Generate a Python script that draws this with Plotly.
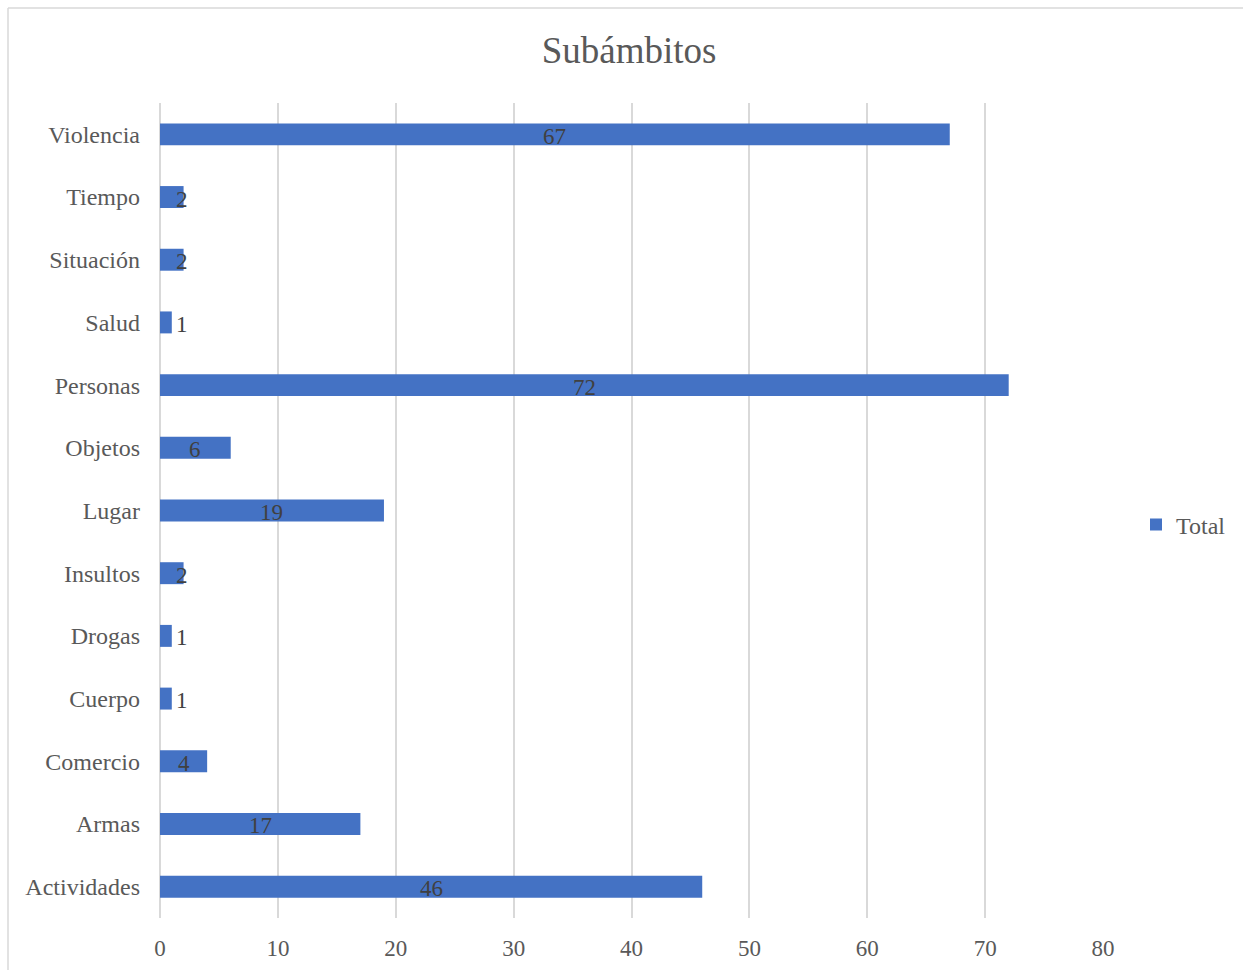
import plotly.graph_objects as go

categories = ["Actividades", "Armas", "Comercio", "Cuerpo", "Drogas", "Insultos",
              "Lugar", "Objetos", "Personas", "Salud", "Situación", "Tiempo", "Violencia"]
values = [46, 17, 4, 1, 1, 2, 19, 6, 72, 1, 2, 2, 67]
x_ticks = [0, 10, 20, 30, 40, 50, 60, 70, 80]

W, H = 1243, 970
L, R, T, B = 160, 140, 103, 52
pw, ph = W - L - R, H - T - B

def px_x(p):
    return (p - L) / pw

def px_y(p):
    return (H - B - p) / ph

label_x = [max(v / 2, 1.87) for v in values]

FONT = "Liberation Serif, Times New Roman, serif"

fig = go.Figure()
fig.add_trace(go.Bar(
    y=categories, x=values, orientation="h", name="Total",
    marker=dict(color="#4472C4", line=dict(width=0)), width=0.35,
    hoverinfo="x+y",
))

annotations = [
    dict(x=lx, y=cat, xref="x", yref="y", text=str(v), showarrow=False,
         xanchor="center", yanchor="middle", yshift=-2,
         font=dict(family=FONT, size=23, color="#404040"))
    for cat, v, lx in zip(categories, values, label_x)
]

fig.update_layout(
    width=W, height=H,
    margin=dict(l=L, r=R, t=T, b=B, pad=0, autoexpand=False),
    paper_bgcolor="white", plot_bgcolor="white",
    font=dict(family=FONT, color="#595959"),
    title=dict(text="Subámbitos", x=629 / W, xanchor="center", y=1 - 50 / H, yanchor="middle",
               font=dict(family=FONT, size=37, color="#595959")),
    xaxis=dict(range=[0, 80], tickvals=x_ticks, showgrid=True, gridcolor="#D9D9D9", gridwidth=1.5,
               zeroline=True, zerolinecolor="#D9D9D9", zerolinewidth=1.5, showline=False,
               tickfont=dict(family=FONT, size=23, color="#595959"), ticks="",
               ticklabelstandoff=14, fixedrange=True, automargin=False),
    yaxis=dict(type="category", range=[-0.5, len(categories) - 0.5], showgrid=False, zeroline=False,
               showline=False, ticks="", tickfont=dict(family=FONT, size=24, color="#595959"),
               ticklabelstandoff=19, fixedrange=True, automargin=False),
    showlegend=True,
    legend=dict(x=px_x(1136), y=px_y(525), xanchor="left", yanchor="middle",
                font=dict(family=FONT, size=24, color="#595959"), bgcolor="rgba(0,0,0,0)",
                itemwidth=30, tracegroupgap=0),
    annotations=annotations,
    shapes=[
        dict(type="line", xref="paper", yref="paper",
             x0=px_x(8), x1=px_x(1250), y0=px_y(8), y1=px_y(8),
             line=dict(color="#D9D9D9", width=1.5), layer="below"),
        dict(type="line", xref="paper", yref="paper",
             x0=px_x(8), x1=px_x(8), y0=px_y(8), y1=px_y(980),
             line=dict(color="#D9D9D9", width=1.5), layer="below"),
    ],
)

fig.write_html("out.html", config={"displayModeBar": False},
               post_script="document.body.style.margin='0';document.body.style.overflow='hidden';")
